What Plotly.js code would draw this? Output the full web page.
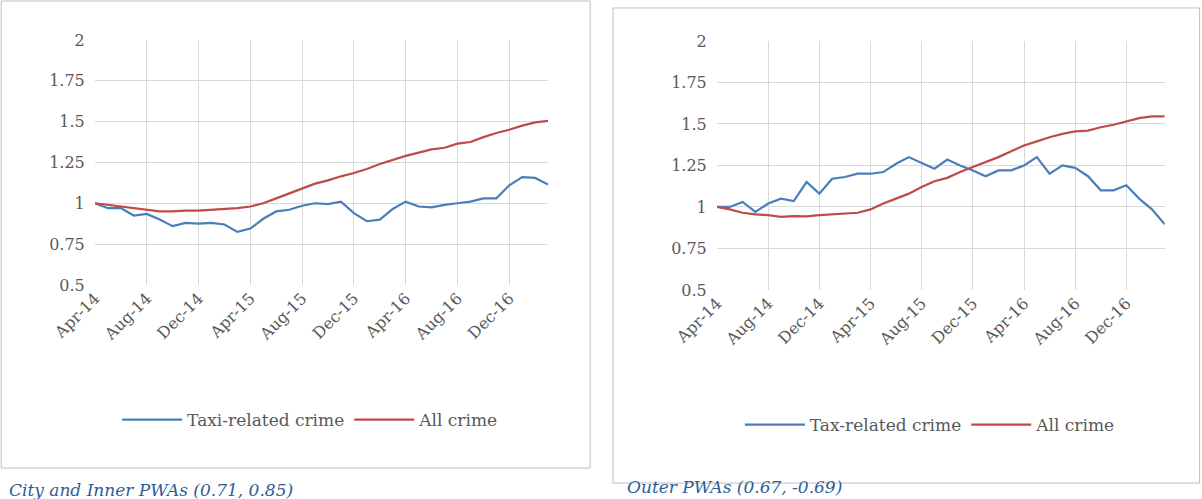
<!DOCTYPE html>
<html><head><meta charset="utf-8">
<script src="https://cdn.plot.ly/plotly-3.0.1.min.js"></script>
<style>body{margin:0;background:#fff}#chart{width:1202px;height:499px}</style>
</head><body><div id="chart"></div>
<script>
const mNames = ['Jan','Feb','Mar','Apr','May','Jun','Jul','Aug','Sep','Oct','Nov','Dec'];
const months = [];
for (let i = 0; i < 36; i++) {
  const m = (3 + i) % 12, y = 14 + Math.floor((3 + i) / 12);
  months.push(mNames[m] + '-' + y);
}
const tickLabels = ['Apr-14','Aug-14','Dec-14','Apr-15','Aug-15','Dec-15','Apr-16','Aug-16','Dec-16'];

const innerTaxi = [1.0,0.97,0.97,0.925,0.935,0.9,0.86,0.88,0.875,0.88,0.87,0.825,0.845,0.905,0.95,0.96,0.985,1.0,0.995,1.01,0.94,0.89,0.9,0.965,1.01,0.98,0.975,0.99,1.0,1.01,1.03,1.03,1.11,1.16,1.155,1.115];
const innerAll = [1.0,0.99,0.98,0.97,0.96,0.95,0.95,0.955,0.955,0.96,0.965,0.97,0.98,1.0,1.03,1.06,1.09,1.12,1.14,1.165,1.185,1.21,1.24,1.265,1.29,1.31,1.33,1.34,1.365,1.375,1.405,1.43,1.45,1.475,1.495,1.505];
const outerTaxi = [1.0,1.0,1.03,0.97,1.02,1.05,1.035,1.15,1.08,1.17,1.18,1.2,1.2,1.21,1.26,1.3,1.265,1.23,1.285,1.25,1.22,1.185,1.22,1.22,1.25,1.3,1.2,1.25,1.235,1.185,1.1,1.1,1.13,1.05,0.985,0.895];
const outerAll = [1.0,0.985,0.965,0.955,0.95,0.94,0.945,0.943,0.95,0.955,0.96,0.965,0.985,1.02,1.05,1.08,1.12,1.155,1.175,1.21,1.24,1.27,1.3,1.335,1.37,1.395,1.42,1.44,1.455,1.46,1.48,1.495,1.515,1.535,1.545,1.545];

const blue = '#4a7ebb', red = '#be4b48';
const fnt = { family: 'DejaVu Serif, serif', size: 16, color: '#595959' };
const lfnt = { family: 'DejaVu Serif, serif', size: 17, color: '#595959' };
const data = [
  { x: months, y: innerTaxi, name: 'Taxi-related crime', mode: 'lines', line: { color: blue, width: 2.2 }, xaxis: 'x', yaxis: 'y', legend: 'legend' },
  { x: months, y: innerAll, name: 'All crime', mode: 'lines', line: { color: red, width: 2.2 }, xaxis: 'x', yaxis: 'y', legend: 'legend' },
  { x: months, y: outerTaxi, name: 'Tax-related crime', mode: 'lines', line: { color: blue, width: 2.2 }, xaxis: 'x2', yaxis: 'y2', legend: 'legend2' },
  { x: months, y: outerAll, name: 'All crime', mode: 'lines', line: { color: red, width: 2.2 }, xaxis: 'x2', yaxis: 'y2', legend: 'legend2' }
];
const xax = d => ({
  domain: d, type: 'category', tickvals: tickLabels, ticktext: tickLabels, tickangle: -45,
  range: [0, 35], showgrid: true, gridcolor: '#d9d9d9', showline: false, zeroline: false,
  tickfont: fnt, ticks: ''
});
const yax = (d, a) => ({
  domain: d, anchor: a, range: [0.5, 2], tickvals: [0.5,0.75,1,1.25,1.5,1.75,2],
  ticktext: ['0.5','0.75','1','1.25','1.5','1.75','2'], gridcolor: '#d9d9d9', zeroline: false,
  tickfont: fnt, ticklen: 6, ticks: 'outside', tickcolor: 'rgba(0,0,0,0)'
});
const layout = {
  width: 1202, height: 499, margin: { l: 0, r: 0, t: 0, b: 0 },
  paper_bgcolor: '#fff', plot_bgcolor: '#fff',
  xaxis: Object.assign(xax([0.079, 0.456]), { anchor: 'y' }),
  yaxis: yax([0.429, 0.92], 'x'),
  xaxis2: Object.assign(xax([0.5965, 0.969]), { anchor: 'y2' }),
  yaxis2: yax([0.419, 0.918], 'x2'),
  legend: { orientation: 'h', x: 0.258, xanchor: 'center', y: 0.158, yanchor: 'middle', font: lfnt, itemwidth: 60 },
  legend2: { orientation: 'h', x: 0.774, xanchor: 'center', y: 0.148, yanchor: 'middle', font: lfnt, itemwidth: 60 },
  shapes: [
    { type: 'rect', xref: 'paper', yref: 'paper', x0: 0.001, x1: 0.491, y0: 0.062, y1: 0.998, line: { color: '#bfbfbf', width: 1 } },
    { type: 'rect', xref: 'paper', yref: 'paper', x0: 0.51, x1: 0.998, y0: 0.032, y1: 0.984, line: { color: '#bfbfbf', width: 1 } }
  ],
  annotations: [
    { text: '<i>City and Inner PWAs (0.71, 0.85)</i>', xref: 'paper', yref: 'paper', x: 0.006, y: 0.018, xanchor: 'left', yanchor: 'middle', showarrow: false, font: { family: 'DejaVu Serif, serif', size: 17, color: '#2e5c9a' } },
    { text: '<i>Outer PWAs (0.67, -0.69)</i>', xref: 'paper', yref: 'paper', x: 0.52, y: 0.024, xanchor: 'left', yanchor: 'middle', showarrow: false, font: { family: 'DejaVu Serif, serif', size: 17, color: '#2e5c9a' } }
  ]
};
Plotly.newPlot('chart', data, layout, { displayModeBar: false });
</script></body></html>
